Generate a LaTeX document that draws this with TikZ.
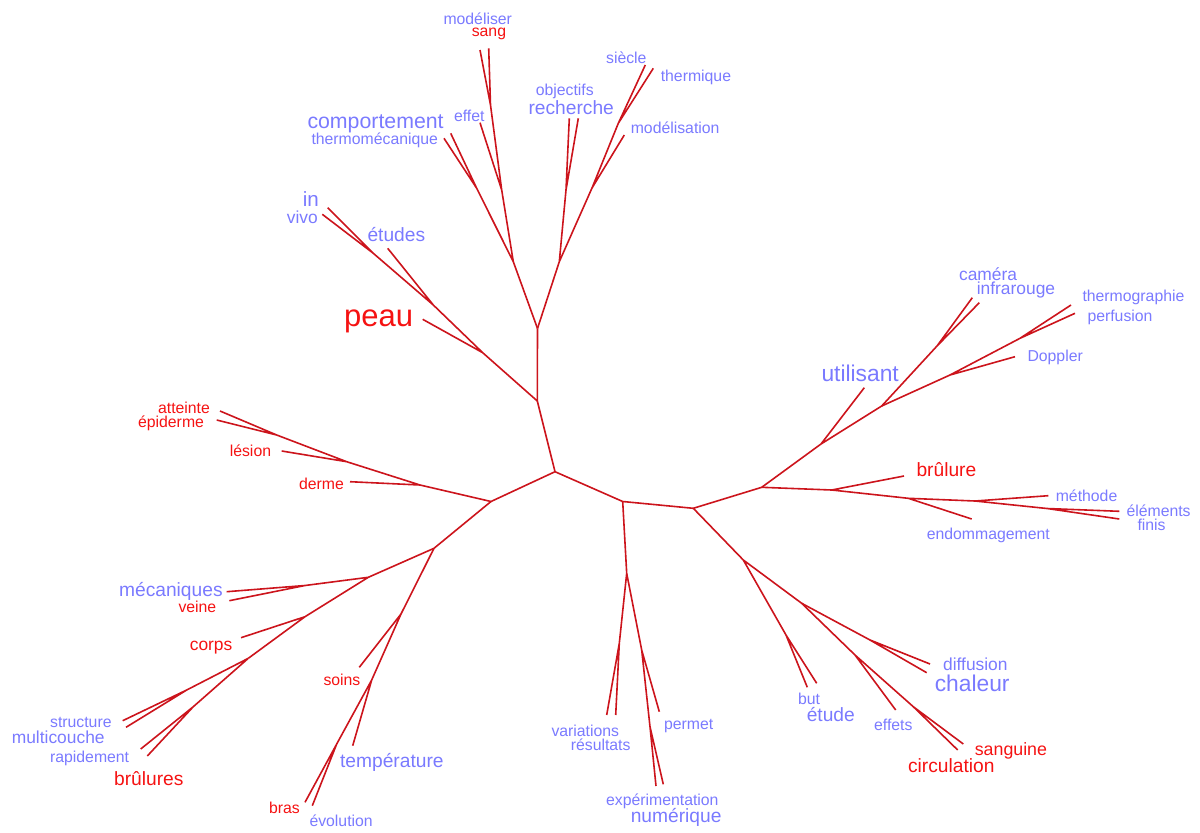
\documentclass[tikz,border=0pt]{standalone}
\usepackage{fontspec}
\setmainfont{Liberation Sans}
\definecolor{lnk}{RGB}{204,20,28}
\definecolor{wblue}{RGB}{122,122,255}
\definecolor{wred}{RGB}{245,18,18}
\newcommand{\fsz}[1]{\fontsize{#1}{#1}\selectfont}

\begin{document}
\begin{tikzpicture}[x=1pt,y=-1pt,line width=1.6pt,
  every node/.style={anchor=base west,inner sep=0pt},
  bw/.style={text=wblue,font=\fsz{#1}},rw/.style={text=wred,font=\fsz{#1}}]
\useasboundingbox (0,0) rectangle (1200,833);
\coordinate (c0) at (555,471.7);\coordinate (l1) at (491,501.5);
\coordinate (u1) at (537.3,401);\coordinate (r1) at (622.7,501.5);\coordinate (r2) at (693.3,508.3);
% top
\coordinate (u2) at (537.5,328.5);
\coordinate (p1) at (482.7,352.7);\coordinate (p2) at (433.3,305);\coordinate (p3) at (373.3,253.3);
\coordinate (x-peau) at (422.7,319.3);\coordinate (x-etudes) at (387.7,248.3);
\coordinate (x-in) at (327.7,207.7);\coordinate (x-vivo) at (322.3,214.3);
\coordinate (ua) at (513.3,261.7);\coordinate (ub) at (559.3,261.7);
\coordinate (ca) at (476.7,188.3);\coordinate (x-comp) at (450.7,133.3);\coordinate (x-thermo) at (444,138.3);
\coordinate (ea) at (501.7,190);\coordinate (x-effet) at (480,122.7);
\coordinate (sa) at (490.5,105);\coordinate (x-modeliser) at (480,50);\coordinate (x-sang) at (488.7,48.3);
\coordinate (ra) at (566,190);\coordinate (x-objectifs) at (569.3,118.3);\coordinate (x-recherche) at (578.3,118.3);
\coordinate (ma) at (592,188);\coordinate (x-modelisation) at (624.3,135);
\coordinate (ta) at (618.3,123.3);\coordinate (x-siecle) at (645.3,65);\coordinate (x-thermique) at (653.3,68.3);
% right
\coordinate (rb) at (761.7,487.3);\coordinate (ru) at (821,444);\coordinate (x-utilisant) at (864.3,387.7);
\coordinate (rv) at (881.7,406);\coordinate (rc) at (937,346);
\coordinate (x-camera) at (972.3,297.7);\coordinate (x-infrarouge) at (979.3,302.7);
\coordinate (rq) at (950,375);\coordinate (x-doppler) at (1015,356.7);
\coordinate (rt) at (1020,338.3);\coordinate (x-thermographie) at (1071,305);\coordinate (x-perfusion) at (1075,313.3);
\coordinate (rw) at (831.7,490);\coordinate (x-brulure) at (904,476);
\coordinate (rx) at (908.3,498.3);\coordinate (x-endommagement) at (971.7,519);
\coordinate (ry) at (975,501);\coordinate (x-methode) at (1048.3,495.7);
\coordinate (rz) at (1047,508.5);\coordinate (x-elements) at (1119.3,511.3);\coordinate (x-finis) at (1119.3,519);
% bottom right
\coordinate (dr) at (743.3,560);\coordinate (db) at (786,635);
\coordinate (x-but) at (807.3,687.3);\coordinate (x-etude) at (816.7,683.3);
\coordinate (dd) at (801.7,603.3);\coordinate (dh) at (870,640);
\coordinate (x-diffusion) at (930,664);\coordinate (x-chaleur) at (926.7,672.7);
\coordinate (de) at (855,655);\coordinate (x-effets) at (895.7,710);
\coordinate (dc) at (913.3,706.7);\coordinate (x-sanguine) at (963.3,744);\coordinate (x-circulation) at (957.7,750);
% bottom
\coordinate (dm) at (626.7,573.3);\coordinate (dv) at (619.3,643.3);
\coordinate (x-variations) at (606.7,715);\coordinate (x-resultats) at (615.7,715);
\coordinate (dp) at (641.7,650);\coordinate (x-permet) at (659.3,711.7);
\coordinate (dx) at (650,726.7);\coordinate (x-experimentation) at (656,786);\coordinate (x-numerique) at (663.3,784.3);
% left
\coordinate (la) at (420,485);\coordinate (x-derme) at (350,481.7);
\coordinate (lb) at (346.7,461.7);\coordinate (x-lesion) at (281.7,451);
\coordinate (lc) at (276.7,435);\coordinate (x-atteinte) at (220,411);\coordinate (x-epiderme) at (216.7,420);
\coordinate (lm) at (434,548.3);\coordinate (ln) at (368.3,577.3);
\coordinate (lo) at (305,585.5);\coordinate (x-mecaniques) at (226.7,591.7);\coordinate (x-veine) at (229.3,600.7);
\coordinate (lq) at (305,616.7);\coordinate (x-corps) at (241,637.7);
\coordinate (lr) at (248.3,658.3);
\coordinate (ls) at (186.7,690);\coordinate (x-structure) at (122.7,720.7);\coordinate (x-multicouche) at (126,727.3);
\coordinate (lt) at (193.3,706.7);\coordinate (x-rapidement) at (140.7,749);\coordinate (x-brulures) at (147.3,756);
\coordinate (lu) at (401,614);\coordinate (x-soins) at (359.3,667.3);
\coordinate (lv) at (371.7,680);\coordinate (x-temperature) at (352.7,745.7);
\coordinate (lw) at (336.7,744);\coordinate (x-bras) at (305,802.3);\coordinate (x-evolution) at (312.3,805.7);

\begin{scope}[draw=lnk]
\draw (c0)--(l1) (c0)--(u1) (c0)--(r1)--(r2);
\draw (u1)--(u2) (u1)--(p1)--(p2)--(p3)--(x-in) (p3)--(x-vivo) (p1)--(x-peau) (p2)--(x-etudes);
\draw (u2)--(ua)--(ca)--(x-comp) (ca)--(x-thermo) (ua)--(ea)--(x-effet) (ea)--(sa)--(x-modeliser) (sa)--(x-sang);
\draw (u2)--(ub)--(ra)--(x-objectifs) (ra)--(x-recherche) (ub)--(ma)--(x-modelisation) (ma)--(ta)--(x-siecle) (ta)--(x-thermique);
\draw (r2)--(rb)--(ru)--(x-utilisant) (ru)--(rv)--(rc)--(x-camera) (rc)--(x-infrarouge);
\draw (rv)--(rq)--(x-doppler) (rq)--(rt)--(x-thermographie) (rt)--(x-perfusion);
\draw (rb)--(rw)--(x-brulure) (rw)--(rx)--(x-endommagement) (rx)--(ry)--(x-methode) (ry)--(rz)--(x-elements) (rz)--(x-finis);
\draw (r2)--(dr)--(db)--(x-but) (db)--(x-etude) (dr)--(dd)--(dh)--(x-diffusion) (dh)--(x-chaleur);
\draw (dd)--(de)--(x-effets) (de)--(dc)--(x-sanguine) (dc)--(x-circulation);
\draw (r1)--(dm)--(dv)--(x-variations) (dv)--(x-resultats) (dm)--(dp)--(x-permet) (dp)--(dx)--(x-experimentation) (dx)--(x-numerique);
\draw (l1)--(la)--(x-derme) (la)--(lb)--(x-lesion) (lb)--(lc)--(x-atteinte) (lc)--(x-epiderme);
\draw (l1)--(lm)--(ln)--(lo)--(x-mecaniques) (lo)--(x-veine) (ln)--(lq)--(x-corps) (lq)--(lr);
\draw (lr)--(ls)--(x-structure) (ls)--(x-multicouche) (lr)--(lt)--(x-rapidement) (lt)--(x-brulures);
\draw (lm)--(lu)--(x-soins) (lu)--(lv)--(x-temperature) (lv)--(lw)--(x-bras) (lw)--(x-evolution);
\end{scope}

\node[bw=15.8] (modeliser) at (442.7,24) {modéliser};
\node[rw=15.8] (sang) at (471,36.7) {sang};
\node[bw=21.3] (comportement) at (306.7,128.3) {comportement};
\node[bw=15.8] (thermomecanique) at (310.7,144) {thermomécanique};
\node[bw=15.8] (effet) at (453.3,121.7) {effet};
\node[bw=20.6] (in) at (302,206.7) {in};
\node[bw=17.4] (vivo) at (286,223.3) {vivo};
\node[bw=19.2] (etudes) at (366.7,241.7) {études};
\node[rw=31] (peau) at (343.3,326.7) {peau};
\node[bw=15.8] (siecle) at (605.3,63.3) {siècle};
\node[bw=15.8] (thermique) at (660,81) {thermique};
\node[bw=15.8] (objectifs) at (535,95) {objectifs};
\node[bw=19.2] (recherche) at (527.7,114.3) {recherche};
\node[bw=15.8] (modelisation) at (630,133.3) {modélisation};
\node[bw=17.4] (camera) at (958.3,280.7) {caméra};
\node[bw=17.4] (infrarouge) at (976,294.3) {infrarouge};
\node[bw=15.8] (thermographie) at (1081.7,301.7) {thermographie};
\node[bw=15.8] (perfusion) at (1086.7,321) {perfusion};
\node[bw=15.8] (doppler) at (1026.7,361.7) {Doppler};
\node[bw=22.8] (utilisant) at (820.7,381) {utilisant};
\node[rw=19.2] (brulure) at (915.7,476) {brûlure};
\node[bw=15.8] (methode) at (1055,501.7) {méthode};
\node[bw=15.8] (elements) at (1125.7,516) {éléments};
\node[bw=15.8] (finis) at (1136.7,530.7) {finis};
\node[bw=15.8] (endommagement) at (926,539.3) {endommagement};
\node[rw=15.8] (atteinte) at (157.3,413.3) {atteinte};
\node[rw=15.8] (epiderme) at (137.3,427.3) {épiderme};
\node[rw=15.8] (lesion) at (229,456.7) {lésion};
\node[rw=15.8] (derme) at (298.3,489) {derme};
\node[bw=19.2] (mecaniques) at (118.3,596.7) {mécaniques};
\node[rw=15.8] (veine) at (177.7,612.3) {veine};
\node[rw=17.4] (corps) at (189,650) {corps};
\node[bw=15.8] (structure) at (49.3,727.3) {structure};
\node[bw=17.4] (multicouche) at (11,743.3) {multicouche};
\node[bw=15.8] (rapidement) at (49.3,762.7) {rapidement};
\node[rw=19.2] (brulures) at (113.3,785.7) {brûlures};
\node[rw=15.8] (bras) at (268.3,813.3) {bras};
\node[rw=15.8] (soins) at (322.7,685) {soins};
\node[bw=19.2] (temperature) at (339.3,767.7) {température};
\node[bw=15.8] (evolution) at (308.7,826) {évolution};
\node[bw=15.8] (variations) at (550.7,736.7) {variations};
\node[bw=15.8] (resultats) at (570,750) {résultats};
\node[bw=15.8] (permet) at (663.3,729.3) {permet};
\node[bw=15.8] (experimentation) at (605.3,805) {expérimentation};
\node[bw=19.2] (numerique) at (630,822.3) {numérique};
\node[bw=15.8] (but) at (797.3,704) {but};
\node[bw=19.2] (etude) at (806,721.7) {étude};
\node[bw=15.8] (effets) at (873.3,730) {effets};
\node[bw=17.4] (diffusion) at (942.3,670.7) {diffusion};
\node[bw=22.8] (chaleur) at (934,691.7) {chaleur};
\node[rw=17.8] (sanguine) at (974,755) {sanguine};
\node[rw=19.2] (circulation) at (907.3,772.3) {circulation};
\end{tikzpicture}
\end{document}
